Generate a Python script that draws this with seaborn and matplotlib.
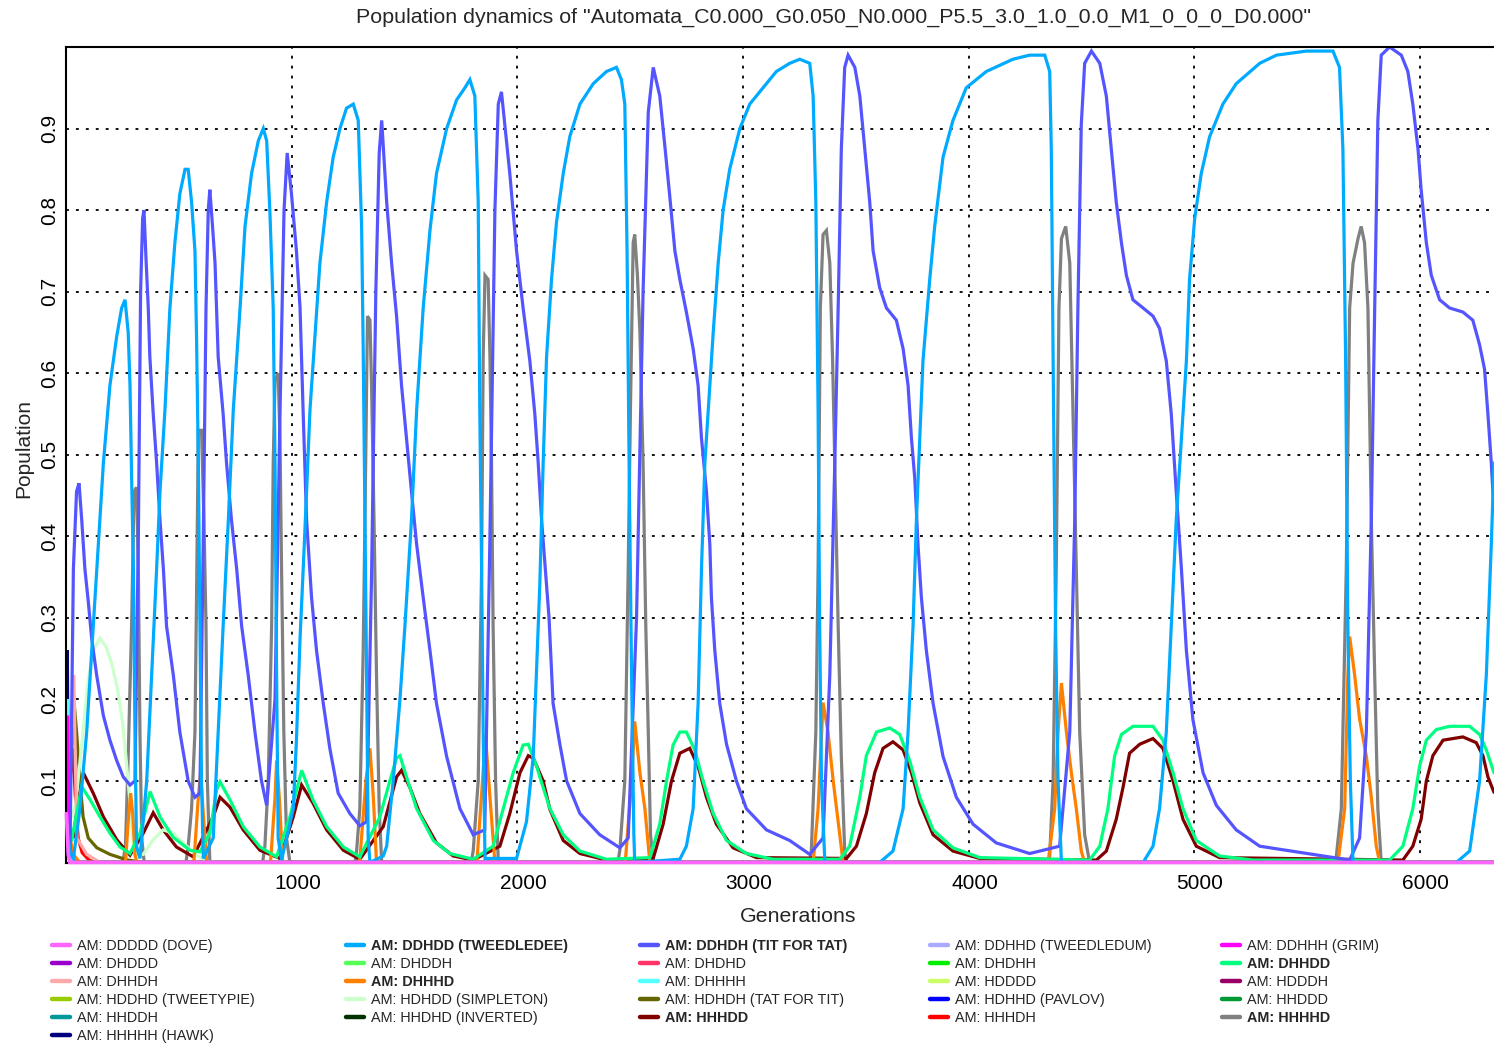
import matplotlib
matplotlib.use("Agg")
import matplotlib.pyplot as plt
import matplotlib.transforms as mtransforms
import seaborn as sns
import pandas as pd
from matplotlib.lines import Line2D

# ---------------- data (generation, population) ----------------
strategies = ["DDDDD (DOVE)", "DDHDD (TWEEDLEDEE)", "DDHDH (TIT FOR TAT)", "DDHHD (TWEEDLEDUM)",
              "DDHHH (GRIM)", "DHDDD", "DHDDH", "DHDHD", "DHDHH", "DHHDD", "DHHDH", "DHHHD",
              "DHHHH", "HDDDD", "HDDDH", "HDDHD (TWEETYPIE)", "HDHDD (SIMPLETON)",
              "HDHDH (TAT FOR TIT)", "HDHHD (PAVLOV)", "HHDDD", "HHDDH", "HHDHD (INVERTED)",
              "HHHDD", "HHHDH", "HHHHD", "HHHHH (HAWK)"]
colors = ["#ff66ff", "#00aaff", "#5555ff", "#aaaaff", "#ff00ff", "#9900cc", "#55ff55", "#ff3366",
          "#00ee00", "#00ff80", "#ffaaaa", "#ff8000", "#55ffff", "#ccff66", "#990066", "#99cc00",
          "#ccffcc", "#666600", "#0000ff", "#009933", "#009999", "#003300", "#800000", "#ff0000",
          "#808080", "#000080"]
bold_names = ["DDHDD (TWEEDLEDEE)", "DDHDH (TIT FOR TAT)", "DHHDD", "DHHHD", "HHHDD", "HHHHD"]

dove = [(0, .06), (8, .01), (15, 0), (6330, 0)]
tweedledee = [(0, .04), (20, .01), (31, .005), (60, .066), (90, .16), (119, .29), (141, .39), (164, .49),
              (193, .585), (223, .645), (245, .68), (260, .69), (274, .65), (282, .585), (289, .475),
              (297, .36), (304, .16), (311, .02), (326, .005), (356, .10), (378, .23), (400, .36),
              (415, .455), (437, .555), (459, .68), (481, .76), (503, .82), (526, .85), (540, .85),
              (555, .81), (570, .75), (577, .645), (585, .49), (592, .29), (599, .10), (607, .005),
              (651, .03), (673, .16), (695, .29), (718, .42), (740, .555), (770, .68), (792, .78),
              (821, .845), (851, .885), (873, .90), (888, .885), (902, .80), (917, .68), (925, .49),
              (932, .23), (939, .03), (954, .003), (1006, .066), (1020, .15), (1036, .275), (1050, .36),
              (1065, .455), (1080, .555), (1102, .645), (1124, .735), (1154, .81), (1183, .865),
              (1213, .90), (1242, .925), (1272, .93), (1294, .91), (1309, .78), (1316, .63), (1324, .42),
              (1331, .23), (1338, .03), (1346, 0), (1405, .008), (1420, .02), (1449, .10), (1479, .2),
              (1501, .29), (1530, .42), (1553, .555), (1582, .68), (1612, .775), (1641, .845),
              (1686, .90), (1730, .935), (1767, .95), (1789, .96), (1811, .94), (1826, .81),
              (1833, .555), (1841, .36), (1848, .16), (1856, .005), (1996, .005), (2040, .05),
              (2070, .13), (2085, .24), (2099, .34), (2114, .49), (2129, .62), (2151, .715),
              (2173, .785), (2203, .845), (2232, .89), (2277, .93), (2336, .955), (2395, .97),
              (2439, .975), (2461, .96), (2476, .93), (2486, .75), (2495, .49), (2506, .23),
              (2516, .035), (2520, 0), (2720, .004), (2749, .02), (2779, .066), (2801, .195),
              (2816, .36), (2831, .49), (2853, .585), (2868, .65), (2890, .735), (2912, .80),
              (2941, .85), (2986, .90), (3030, .93), (3089, .95), (3148, .97), (3207, .98),
              (3252, .985), (3296, .98), (3311, .94), (3323, .81), (3333, .555), (3340, .29),
              (3348, .10), (3363, 0), (3606, 0), (3665, .014), (3710, .066), (3732, .16), (3754, .29),
              (3769, .42), (3784, .52), (3798, .615), (3828, .715), (3850, .78), (3887, .865),
              (3931, .91), (3990, .95), (4079, .97), (4197, .985), (4271, .99), (4338, .99),
              (4360, .97), (4367, .875), (4375, .62), (4386, .29), (4397, .10), (4412, 0), (4774, 0),
              (4818, .02), (4847, .066), (4877, .16), (4899, .29), (4921, .42), (4944, .52),
              (4966, .615), (4980, .715), (5003, .79), (5032, .845), (5069, .89), (5128, .93),
              (5187, .955), (5291, .98), (5365, .99), (5498, .995), (5616, .995), (5645, .975),
              (5660, .875), (5672, .62), (5682, .29), (5693, .10), (5705, 0), (6163, 0), (6222, .014),
              (6266, .10), (6296, .23), (6318, .39), (6330, .49)]
tit_for_tat = [(0, .04), (16, .015), (31, .36), (45, .455), (56, .465), (68, .42), (82, .36), (97, .32),
               (112, .275), (134, .23), (164, .18), (193, .15), (223, .125), (252, .105), (282, .095),
               (304, .10), (319, .40), (329, .70), (338, .79), (344, .80), (353, .74), (363, .68),
               (370, .62), (385, .55), (400, .49), (415, .42), (430, .36), (444, .29), (474, .23),
               (503, .16), (540, .10), (570, .08), (592, .085), (607, .40), (619, .68), (629, .80),
               (636, .825), (648, .78), (659, .735), (673, .62), (695, .55), (710, .49), (732, .42),
               (755, .36), (777, .29), (806, .23), (836, .16), (865, .10), (888, .07), (925, .2),
               (947, .55), (965, .80), (979, .87), (998, .82), (1020, .75), (1036, .68), (1050, .55),
               (1065, .42), (1087, .325), (1109, .26), (1139, .195), (1168, .14), (1205, .085),
               (1257, .06), (1301, .045), (1331, .05), (1353, .35), (1372, .70), (1387, .87),
               (1398, .91), (1420, .81), (1442, .735), (1464, .67), (1486, .585), (1508, .52),
               (1530, .455), (1553, .39), (1582, .325), (1612, .26), (1641, .195), (1686, .13),
               (1745, .066), (1804, .034), (1855, .04), (1878, .40), (1900, .80), (1915, .93),
               (1929, .945), (1966, .845), (1996, .75), (2025, .68), (2055, .615), (2077, .55),
               (2092, .49), (2107, .42), (2140, .30), (2158, .195), (2188, .145), (2218, .10),
               (2277, .06), (2365, .034), (2454, .018), (2491, .03), (2528, .30), (2557, .70),
               (2580, .92), (2602, .975), (2631, .94), (2653, .88), (2676, .815), (2698, .75),
               (2720, .715), (2749, .675), (2779, .63), (2801, .585), (2816, .52), (2838, .455),
               (2853, .39), (2860, .325), (2875, .26), (2897, .195), (2927, .145), (2971, .10),
               (3015, .066), (3104, .04), (3207, .027), (3296, .01), (3355, .03), (3385, .23),
               (3407, .49), (3422, .68), (3436, .875), (3451, .975), (3466, .99), (3496, .975),
               (3518, .94), (3540, .875), (3562, .81), (3577, .75), (3606, .705), (3636, .68),
               (3680, .665), (3710, .63), (3732, .585), (3747, .52), (3762, .47), (3776, .39),
               (3791, .325), (3813, .26), (3843, .195), (3887, .13), (3946, .08), (4020, .047),
               (4123, .024), (4271, .011), (4404, .02), (4449, .16), (4471, .42), (4485, .68),
               (4500, .905), (4515, .98), (4545, .995), (4582, .98), (4611, .94), (4633, .875),
               (4655, .81), (4678, .76), (4700, .72), (4729, .69), (4774, .68), (4818, .67),
               (4847, .655), (4877, .615), (4899, .55), (4921, .455), (4944, .36), (4966, .26),
               (4995, .175), (5040, .11), (5099, .07), (5187, .04), (5291, .02), (5690, .003),
               (5734, .03), (5764, .16), (5786, .42), (5801, .68), (5815, .91), (5830, .99),
               (5867, 1.0), (5919, .99), (5948, .97), (5970, .93), (5993, .875), (6007, .825),
               (6030, .76), (6052, .72), (6089, .69), (6133, .68), (6192, .675), (6236, .665),
               (6266, .635), (6288, .605), (6303, .55), (6318, .49), (6330, .43)]
tweedledum = [(0, .05), (8, .04), (15, .01), (25, 0), (6330, 0)]
grim = [(0, .04), (5, .18), (9, .04), (16, 0), (6330, 0)]
dhddd = [(0, .04), (10, .01), (20, 0), (6330, 0)]
dhddh = [(0, .04), (10, .02), (20, 0), (6330, 0)]
dhdhd = [(0, .04), (15, .02), (30, 0), (6330, 0)]
dhdhh = [(0, .04), (5, .16), (10, .05), (18, 0), (6330, 0)]
dhhdd = [(0, .04), (25, .03), (45, .06), (68, .093), (105, .077), (149, .056), (193, .036), (238, .019),
         (282, .011), (326, .036), (371, .087), (415, .056), (473, .031), (548, .015), (592, .013),
         (636, .036), (666, .089), (681, .099), (725, .077), (784, .044), (858, .019), (932, .007),
         (991, .056), (1043, .113), (1093, .077), (1154, .044), (1228, .019), (1301, .007),
         (1390, .056), (1434, .10), (1464, .128), (1479, .131), (1508, .105), (1553, .066),
         (1627, .027), (1700, .011), (1804, .004), (1892, .02), (1937, .066), (1981, .11),
         (2025, .144), (2048, .145), (2085, .118), (2099, .105), (2144, .066), (2203, .034),
         (2277, .014), (2395, .004), (2587, .006), (2631, .047), (2661, .10), (2690, .144),
         (2720, .16), (2749, .16), (2786, .138), (2823, .10), (2868, .06), (2927, .027), (3015, .011),
         (3134, .004), (3429, .004), (3473, .02), (3518, .08), (3547, .131), (3592, .16), (3651, .165),
         (3695, .157), (3739, .125), (3784, .08), (3843, .04), (3931, .018), (4050, .006),
         (4537, .003), (4582, .02), (4618, .066), (4648, .131), (4678, .157), (4729, .167),
         (4818, .167), (4862, .15), (4907, .11), (4951, .066), (5010, .027), (5113, .008),
         (5261, .003), (5867, .003), (5926, .02), (5970, .066), (6000, .118), (6030, .15),
         (6074, .163), (6133, .167), (6222, .167), (6266, .157), (6296, .138), (6330, .11)]
dhhdh = [(0, .04), (20, .15), (33, .23), (40, .12), (47, .03), (90, .01), (150, 0), (6330, 0)]
dhhhd = [(0, .05), (10, .04), (30, .01), (60, 0), (262, 0), (274, .05), (285, .085), (294, .06),
         (304, .01), (312, 0), (565, 0), (585, .08), (595, .11), (607, .06), (622, 0), (905, 0), (925, .08),
         (932, .125), (944, .08), (959, 0), (1300, 0), (1328, .1), (1346, .14), (1361, .08),
         (1375, 0), (1820, 0), (1845, .1), (1858, .157), (1878, .08), (1900, 0), (2478, 0),
         (2506, .1), (2520, .173), (2543, .11), (2565, .066), (2587, 0), (3311, 0), (3333, .066),
         (3355, .196), (3377, .16), (3400, .1), (3422, .05), (3444, 0), (4353, 0), (4382, .066),
         (4397, .16), (4412, .22), (4434, .16), (4456, .11), (4478, .066), (4500, .014), (4515, 0),
         (5638, 0), (5668, .066), (5682, .23), (5690, .277), (5712, .23), (5734, .176),
         (5764, .13), (5786, .08), (5808, .02), (5823, 0), (6330, 0)]
dhhhh = [(0, .04), (4, .2), (8, .03), (14, 0), (6330, 0)]
hdddd = [(0, .04), (10, .01), (20, 0), (6330, 0)]
hdddh = [(0, .04), (10, .02), (25, 0), (6330, 0)]
tweetypie = [(0, .04), (15, .02), (30, 0), (6330, 0)]
simpleton = [(0, .04), (40, .07), (70, .15), (95, .22), (118, .26), (149, .275), (175, .265), (200, .245),
             (225, .215), (250, .17), (267, .12), (280, .08), (292, .035), (304, .01), (341, .01),
             (385, .028), (429, .04), (473, .036), (518, .024), (577, .009), (636, 0), (6330, 0)]
tat_for_tit = [(0, .04), (20, .12), (36, .19), (45, .16), (60, .1), (74, .056), (97, .03), (135, .018),
               (193, .01), (270, .003), (350, 0), (6330, 0)]
pavlov = [(0, .04), (10, .02), (20, 0), (6330, 0)]
hhddd = [(0, .04), (12, .02), (25, 0), (6330, 0)]
hhddh = [(0, .04), (10, .02), (20, 0), (6330, 0)]
inverted = [(0, .04), (10, .02), (20, 0), (6330, 0)]
hhhdd = [(0, .05), (30, .03), (55, .08), (75, .11), (119, .085), (164, .056), (223, .028), (282, .009),
         (341, .036), (385, .061), (429, .04), (488, .019), (562, .007), (651, .056), (681, .08),
         (725, .068), (784, .04), (858, .015), (947, .005), (1006, .056), (1043, .095), (1093, .073),
         (1154, .04), (1228, .015), (1301, .004), (1405, .044), (1464, .105), (1486, .113),
         (1523, .092), (1567, .06), (1641, .024), (1715, .008), (1804, .003), (1922, .02), (1966, .06),
         (2011, .11), (2048, .131), (2070, .128), (2114, .10), (2144, .065), (2203, .027), (2277, .011),
         (2395, .003), (2602, .005), (2646, .047), (2683, .10), (2720, .134), (2764, .14), (2801, .118),
         (2838, .08), (2882, .047), (2956, .018), (3060, .006), (3459, .005), (3503, .02), (3547, .06),
         (3584, .11), (3621, .14), (3665, .148), (3710, .138), (3747, .11), (3784, .073), (3843, .034),
         (3931, .014), (4050, .005), (4567, .003), (4611, .014), (4655, .053), (4685, .092),
         (4714, .134), (4759, .145), (4818, .152), (4862, .14), (4907, .10), (4951, .053), (5010, .02),
         (5113, .006), (5926, .003), (5970, .02), (6007, .053), (6030, .10), (6059, .131), (6104, .15),
         (6192, .154), (6251, .147), (6281, .131), (6303, .105), (6330, .086)]
hhhdh = [(0, .04), (15, .1), (28, .14), (40, .08), (52, .03), (70, .012), (100, .003), (130, 0), (6330, 0)]
hhhhd = [(0, .04), (15, .02), (40, 0), (250, 0), (262, .02), (274, .13), (289, .29), (300, .455), (311, .46),
         (319, .36), (326, .16), (334, .03), (345, 0), (530, 0), (540, .02), (555, .066), (570, .16),
         (577, .325), (585, .53), (599, .53), (610, .42), (619, .29), (625, .1), (636, 0), (870, 0),
         (880, .02), (895, .1), (910, .29), (917, .49), (925, .59), (939, .6), (947, .52), (954, .36),
         (964, .16), (976, .03), (991, 0), (1280, 0), (1287, .015), (1301, .066), (1316, .26),
         (1327, .49), (1335, .67), (1346, .665), (1353, .585), (1364, .42), (1375, .23), (1387, .066),
         (1398, 0), (1795, 0), (1804, .015), (1826, .1), (1841, .36), (1848, .62), (1856, .72),
         (1870, .715), (1878, .62), (1885, .49), (1892, .29), (1903, .1), (1915, 0), (2445, 0),
         (2454, .015), (2476, .1), (2491, .36), (2501, .555), (2513, .76), (2520, .77), (2532, .72),
         (2543, .65), (2557, .49), (2569, .29), (2580, .16), (2590, .034), (2602, 0), (3295, 0),
         (3303, .014), (3323, .16), (3333, .36), (3343, .68), (3355, .77), (3370, .775), (3385, .735),
         (3397, .62), (3407, .49), (3422, .29), (3436, .13), (3451, .014), (3459, 0), (4352, 0),
         (4360, .008), (4375, .1), (4389, .36), (4401, .68), (4412, .765), (4431, .78), (4449, .735),
         (4463, .555), (4478, .36), (4493, .16), (4515, .034), (4537, 0), (5625, 0), (5631, .008),
         (5653, .066), (5675, .36), (5690, .68), (5705, .735), (5727, .765), (5741, .78), (5756, .76),
         (5771, .68), (5786, .42), (5801, .23), (5815, .066), (5830, 0), (6330, 0)]
hawk = [(0, .04), (4, .26), (9, .05), (15, 0), (6330, 0)]

series_data = [dove, tweedledee, tit_for_tat, tweedledum, grim, dhddd, dhddh, dhdhd, dhdhh, dhhdd,
               dhhdh, dhhhd, dhhhh, hdddd, hdddh, tweetypie, simpleton, tat_for_tit, pavlov, hhddd,
               hhddh, inverted, hhhdd, hhhdh, hhhhd, hawk]

x_ticks = [1000, 2000, 3000, 4000, 5000, 6000]
y_ticks = [0.1, 0.2, 0.3, 0.4, 0.5, 0.6, 0.7, 0.8, 0.9]
title = 'Population dynamics of "Automata_C0.000_G0.050_N0.000_P5.5_3.0_1.0_0.0_M1_0_0_0_D0.000"'

# ---------------- figure ----------------
sns.set_style("white")
plt.rcParams["font.family"] = ["Liberation Sans", "DejaVu Sans"]

W, H = 1494, 1045
fig = plt.figure(figsize=(W / 100, H / 100), dpi=100)
ax = fig.add_axes([66.4 / W, 1 - 862.5 / H, (W - 66.4) / W, (862.5 - 47) / H])

rows = []
for name, pts in zip(strategies, series_data):
    for g, p in pts:
        rows.append({"gen": g, "pop": p, "strategy": name})
df = pd.DataFrame(rows)
palette = dict(zip(strategies, colors))

sns.lineplot(data=df, x="gen", y="pop", hue="strategy", hue_order=strategies[::-1],
             palette=palette, estimator=None, sort=False, linewidth=2.3, legend=False, ax=ax)
for ln in ax.lines:
    ln.set_solid_joinstyle("miter")
    if matplotlib.colors.to_hex(ln.get_color()) == "#ff66ff":
        ln.set_clip_on(False)
        ln.set_zorder(5)
        ln.set_linewidth(2.6)

ax.set_xlim(0, 6330)
ax.set_ylim(0, 1.0)
ax.set_xticks(x_ticks)
ax.set_xticklabels([str(t) for t in x_ticks])
ax.set_yticks(y_ticks)
ax.set_yticklabels([f"{t:.1f}" for t in y_ticks], rotation=90, va="center")
ax.tick_params(axis="both", length=0, labelsize=15, colors="black")
ax.tick_params(axis="x", pad=8)
ax.tick_params(axis="y", pad=5)
shift = mtransforms.ScaledTranslation(6 / 100, 0, fig.dpi_scale_trans)
for lab in ax.get_xticklabels():
    lab.set_transform(lab.get_transform() + shift)
ax.set_xlabel("")
ax.set_ylabel("")
ax.set_axisbelow(True)
ax.grid(True, color="black", linestyle=(0, (1.6, 3.9)), linewidth=1.3)
for side in ["left", "top", "bottom"]:
    ax.spines[side].set_color("black")
    ax.spines[side].set_linewidth(1.5)
ax.spines["right"].set_visible(False)

fig.text(834 / W, 1 - 17.5 / H, title, ha="center", va="center", fontsize=15.4)
fig.text(798 / W, 1 - 917 / H, "Generations", ha="center", va="center", fontsize=15.4)
fig.text(24 / W, 1 - 449 / H, "Population", ha="center", va="center", fontsize=15, rotation=90)

# legend: 5 columns, row-major order of the strategies
col_x = [52, 346, 640, 930, 1222]
for c in range(5):
    idx = list(range(c, len(strategies), 5))
    handles = [Line2D([], [], color=colors[i], linewidth=3.2) for i in idx]
    labels = ["AM: " + strategies[i] for i in idx]
    leg = fig.legend(handles, labels, loc="upper left", bbox_to_anchor=(col_x[c] / W, 1 - 939 / H),
                     frameon=False, fontsize=10.4, handlelength=1.25, handletextpad=0.5,
                     borderpad=0, borderaxespad=0, labelspacing=0.28)
    for i, t in zip(idx, leg.get_texts()):
        if strategies[i] in bold_names:
            t.set_fontweight("bold")

fig.savefig("out.png", dpi=100)
